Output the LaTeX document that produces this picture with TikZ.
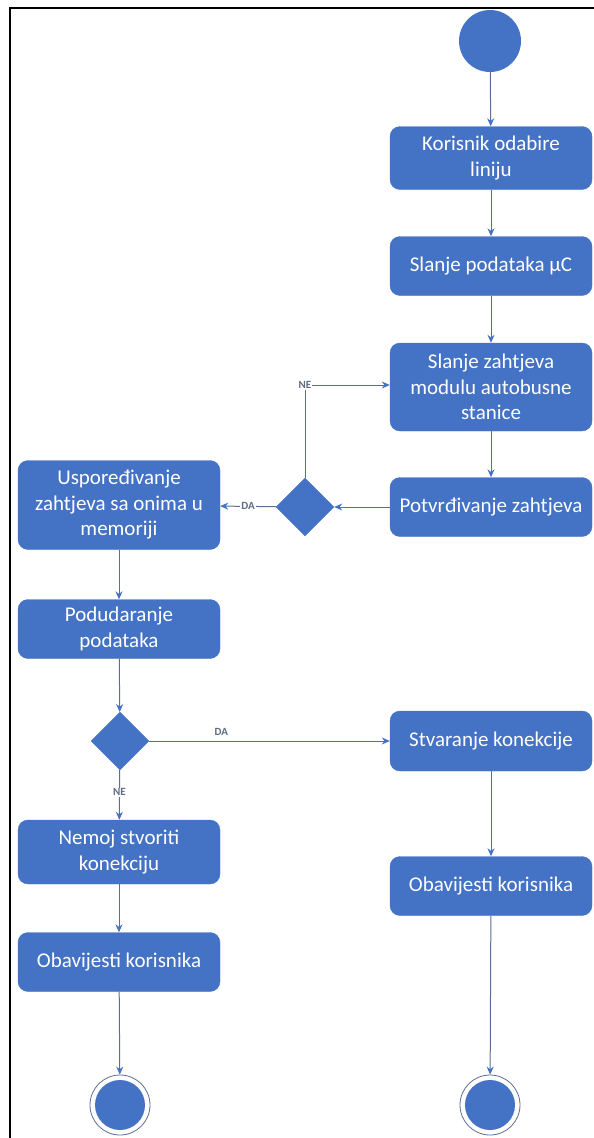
\documentclass[tikz,border=0pt]{standalone}
\usepackage{fontspec}
\setmainfont{Carlito}
\usetikzlibrary{arrows.meta,shapes.geometric}
\definecolor{boxblue}{HTML}{4472C4}
\definecolor{linecol}{HTML}{5D6E93}
\definecolor{lblcol}{HTML}{5F6B80}
\tikzset{
  actbox/.style={draw=boxblue, fill=boxblue, rounded corners=10pt, text=white,
    minimum width=202pt, align=center, font=\fontsize{21}{25.5}\selectfont, inner sep=0pt},
  decis/.style={draw=boxblue, fill=boxblue, diamond, aspect=1, minimum width=58pt, minimum height=58pt, inner sep=0pt},
  startnode/.style={circle, fill=boxblue, minimum size=62pt, inner sep=0pt},
  endnode/.style={circle, fill=boxblue, minimum size=50pt, inner sep=0pt},
  endring/.style={circle, draw=linecol, line width=0.8pt, minimum size=60pt, inner sep=0pt},
  flow/.style={draw=linecol, line width=1pt, -{Stealth[length=8pt,width=7pt,color=boxblue,fill=boxblue]}},
  lbl/.style={text=lblcol, font=\fontsize{11}{12}\selectfont\bfseries, inner sep=1pt, fill=white}
}
\begin{document}
\begin{tikzpicture}[x=1pt,y=-1pt]
\useasboundingbox (0,0) rectangle (594,1138);
\draw[line width=2.5pt] (10,1138) -- (10,8) -- (594,8);

\node[startnode] (start) at (490,41) {};
\node[actbox, minimum height=63pt] (b1) at (491,158) {Korisnik odabire\\liniju};
\node[actbox, minimum height=59pt] (b2) at (491,266) {Slanje podataka µC};
\node[actbox, minimum height=88pt] (b3) at (491,387) {Slanje zahtjeva\\modulu autobusne\\stanice};
\node[actbox, minimum height=59pt] (b4) at (491,507) {Potvrđivanje zahtjeva};
\node[decis] (d1) at (305,507) {};
\node[actbox, minimum height=89pt] (b5) at (119,505) {Uspoređivanje\\zahtjeva sa onima u\\memoriji};
\node[actbox, minimum height=59pt] (b6) at (119,629) {Podudaranje\\podataka};
\node[decis] (d2) at (120,741) {};
\node[actbox, minimum height=60pt] (b7) at (491,741) {Stvaranje konekcije};
\node[actbox, minimum height=59pt] (b8) at (491,886) {Obavijesti korisnika};
\node[actbox, minimum height=64pt] (b9) at (119,852) {Nemoj stvoriti\\konekciju};
\node[actbox, minimum height=59pt] (b10) at (119,962) {Obavijesti korisnika};
\node[endring] (e1r) at (120,1105) {};
\node[endnode] (e1) at (120,1105) {};
\node[endring] (e2r) at (490,1105) {};
\node[endnode] (e2) at (490,1105) {};

\coordinate (ne1) at (305,385);
\draw[flow] (start) -- (b1);
\draw[flow] (b1) -- (b2);
\draw[flow] (b2) -- (b3);
\draw[flow] (b3) -- (b4);
\draw[flow] (b4) -- (d1);
\draw[flow] (d1.north) -- (ne1) -- (b3.west |- ne1);
\node[lbl] (lne1) at (ne1) {NE};
\draw[flow] (d1) -- node[lbl] (lda1) {DA} (b5);
\draw[flow] (b5) -- (b6);
\draw[flow] (b6) -- (d2);
\draw[flow] (d2) -- node[lbl, above=4pt, pos=0.3] (lda2) {DA} (b7);
\draw[flow] (d2) -- node[lbl, pos=0.45] (lne2) {NE} (b9);
\draw[flow] (b7) -- (b8);
\draw[flow] (b9) -- (b10);
\draw[flow] (b10) -- (e1r);
\draw[flow] (b8) -- (e2r);
\end{tikzpicture}
\end{document}
